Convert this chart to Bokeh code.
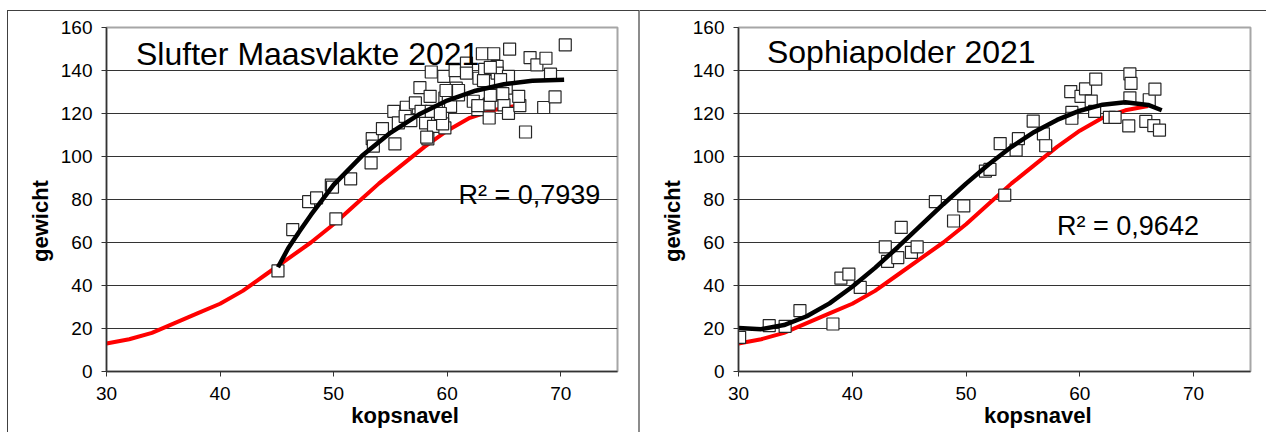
import math
from bokeh.plotting import figure
from bokeh.layouts import row, column
from bokeh.models import Range1d, FixedTicker, Label, LinearAxis, Spacer
from bokeh.embed import file_html
from bokeh.resources import INLINE

FONT = "Liberation Sans"

# reference (red) curve, same in both panels
ref_x = [30, 32, 34, 36, 38, 40, 42, 44, 46, 48, 50, 52, 54, 56, 58, 60, 62, 64, 66]
ref_y = [13, 15, 18, 22.5, 27, 31.5, 37.5, 45, 52.5, 60, 68.5, 78, 87.5, 96, 104.5, 112, 118, 121.5, 123.5]

# Slufter Maasvlakte 2021
slufter_x = [45.1, 46.4, 47.8, 48.5, 49.8, 49.9, 50.2, 51.5, 53.3, 53.4, 53.5, 54.3, 55.4, 55.3, 55.7,
             56.4, 56.3, 57.2, 57.6, 58.3, 58.1, 57.7, 58.6, 58.5, 58.6, 58.8, 59.8, 59.6, 59.7, 59.8,
             60.1, 60.3, 60.7, 60.8, 61.0, 61.7, 61.7, 62.3, 62.7, 62.8, 63.1, 63.3, 63.7, 63.7, 64.1,
             64.4, 64.4, 64.1, 65.0, 65.2, 65.4, 65.5, 65.4, 66.4, 66.3, 66.9, 67.3, 67.9, 68.7, 69.1,
             68.5, 69.5, 70.4, 63.8, 59.9, 63.8, 59.6, 62.7, 64.9, 63.2, 64.7, 61.0, 59.4, 56.8, 58.2]
slufter_y = [46.8, 66, 79, 80.8, 86.7, 85.8, 71, 89.6, 97, 108.3, 104.8, 113, 105.9, 121, 115.6,
             122.9, 118.7, 124.9, 132, 108.2, 115.6, 121, 139.3, 128, 121, 114, 113.3, 119.2, 137.3, 127.2,
             125.7, 123.3, 139.9, 131.8, 128.7, 143.4, 138.8, 125.7, 121.8, 136.4, 147.8, 140.5, 117.9, 124.4, 147.8,
             141.9, 138.8, 128.7, 124, 131.8, 137.3, 149.9, 120.1, 123.7, 128, 111.4, 146, 142.6, 145.7, 138.3,
             122.8, 127.7, 151.9, 141.5, 130.7, 128.4, 115.2, 123.7, 129.2, 135.3, 135.8, 130.7, 120, 116.7, 109]
slufter_fit_x = [45.1, 46, 47, 48, 50, 52.5, 55, 57.5, 60, 62.5, 65, 67.5, 70.3]
slufter_fit_y = [48.5, 57.3, 65.2, 72.8, 86.8, 100.3, 111, 119.5, 126, 130.6, 133.6, 135.2, 135.7]

# Sophiapolder 2021
sophia_x = [30.1, 32.7, 34.1, 35.4, 38.3, 39.0, 39.7, 40.7, 42.9, 43.1, 44.0, 44.3, 45.2, 45.7, 47.3,
            48.9, 49.8, 51.7, 52.1, 53.0, 53.4, 54.4, 54.6, 55.9, 56.8, 57.0, 59.2, 59.3, 59.3, 60.1,
            60.5, 61.4, 61.0, 61.3, 62.6, 63.1, 64.3, 64.4, 64.5, 64.4, 65.8, 66.1, 66.6, 66.5, 67.0]
sophia_y = [15.9, 21.3, 21.0, 28.3, 22.1, 43.4, 45.3, 39.1, 58, 51.2, 53, 67, 55.4, 58, 79,
            70, 77, 93.2, 94, 106, 82, 103, 108.3, 116.5, 110.5, 105, 130.2, 120.5, 117.8, 128,
            131.5, 136, 125.8, 121, 118.2, 118.2, 114.2, 138.4, 134, 127.3, 116.3, 126.4, 131.3, 114.4, 112.3]
sophia_fit_x = [30, 32, 34, 36, 38, 40, 42, 44, 46, 48, 50, 52, 54, 56, 58, 60, 62, 64, 66, 67.2]
sophia_fit_y = [20.2, 19.7, 21.6, 25.7, 31.7, 39.4, 48.2, 57.8, 67.8, 77.8, 87.4, 96.4, 104.5, 111.4, 117.0,
                121.3, 124.1, 125.2, 124.0, 121.5]

x_ticks = [30, 40, 50, 60, 70]
y_ticks = [0, 20, 40, 60, 80, 100, 120, 140, 160]
grid_ticks = [20, 40, 60, 80, 100, 120, 140]
x_title = "kopsnavel"
y_title = "gewicht"
X_TITLE_AT = 56.3
Y_TITLE_AT = 70


def make_panel(title, r2text, xs, ys, fx, fy, width, bl, br, title_pos, r2_pos, shadow):
    p = figure(width=width, height=422, x_range=Range1d(30, 75), y_range=Range1d(0, 160),
               output_backend="svg", toolbar_location=None,
               min_border_left=bl, min_border_right=br, min_border_top=17, min_border_bottom=61)
    p.border_fill_color = None
    p.background_fill_color = "white"
    p.outline_line_color = "#a6a6a6"
    p.outline_line_width = 2
    p.styles = {"box-shadow": shadow}

    p.xgrid.visible = False
    p.ygrid.ticker = FixedTicker(ticks=grid_ticks)
    p.ygrid.grid_line_color = "#333333"
    p.ygrid.grid_line_width = 1.2

    for ax in (p.xaxis[0], p.yaxis[0]):
        ax.axis_line_color = "#333333"
        ax.axis_line_width = 1.5
        ax.major_tick_line_color = "#333333"
        ax.major_tick_out = 5
        ax.major_tick_in = 0
        ax.minor_tick_line_color = None
        ax.major_label_text_font = FONT
        ax.major_label_text_font_size = "19px"
        ax.major_label_text_color = "black"
    p.xaxis.ticker = FixedTicker(ticks=x_ticks)
    p.yaxis.ticker = FixedTicker(ticks=y_ticks)
    p.xaxis.major_label_standoff = 10
    p.yaxis.major_label_standoff = 9

    # axis titles drawn as single-label axes so they can sit off-centre like the original
    xt = LinearAxis(ticker=FixedTicker(ticks=[X_TITLE_AT]), major_label_overrides={X_TITLE_AT: x_title},
                    axis_line_color=None, major_tick_line_color=None, minor_tick_line_color=None,
                    major_tick_out=0, major_tick_in=0, major_label_standoff=0,
                    major_label_text_font=FONT, major_label_text_font_style="bold",
                    major_label_text_font_size="22px", major_label_text_color="black")
    p.add_layout(xt, "below")
    yt = LinearAxis(ticker=FixedTicker(ticks=[Y_TITLE_AT]), major_label_overrides={Y_TITLE_AT: y_title},
                    axis_line_color=None, major_tick_line_color=None, minor_tick_line_color=None,
                    major_tick_out=0, major_tick_in=0, major_label_standoff=5,
                    major_label_orientation="parallel",
                    major_label_text_font=FONT, major_label_text_font_style="bold",
                    major_label_text_font_size="22px", major_label_text_color="black")
    p.add_layout(yt, "left")

    p.line(ref_x, ref_y, line_color="#ff0000", line_width=4)
    p.scatter(xs, ys, marker="square", size=12, fill_color="white",
              line_color="#262626", line_width=1.2)
    p.line(fx, fy, line_color="black", line_width=4.5)

    p.add_layout(Label(x=title_pos[0], y=title_pos[1], text=title, text_font=FONT,
                       text_font_size="32px", text_color="black", text_baseline="alphabetic"))
    p.add_layout(Label(x=r2_pos[0], y=r2_pos[1], text=r2text, text_font=FONT,
                       text_font_size="27px", text_color="black", text_baseline="alphabetic"))
    return p


left = make_panel("Slufter Maasvlakte 2021", "R² = 0,7939", slufter_x, slufter_y,
                  slufter_fit_x, slufter_fit_y, 632, 99, 22, (32.6, 147.9), (61.0, 82.2),
                  "inset 1px 1px 0 0 #404040, inset -1px 0 0 0 #8c8c8c")
right = make_panel("Sophiapolder 2021", "R² = 0,9642", sophia_x, sophia_y,
                   sophia_fit_x, sophia_fit_y, 627, 99, 16, (32.5, 148.4), (58.0, 67.5),
                   "inset 1px 0 0 0 #8c8c8c, inset 0 1px 0 0 #404040")

layout = column(Spacer(width=1266, height=10),
                row(Spacer(width=7, height=422), left, right))
open("out.html", "w").write(file_html(layout, INLINE))
